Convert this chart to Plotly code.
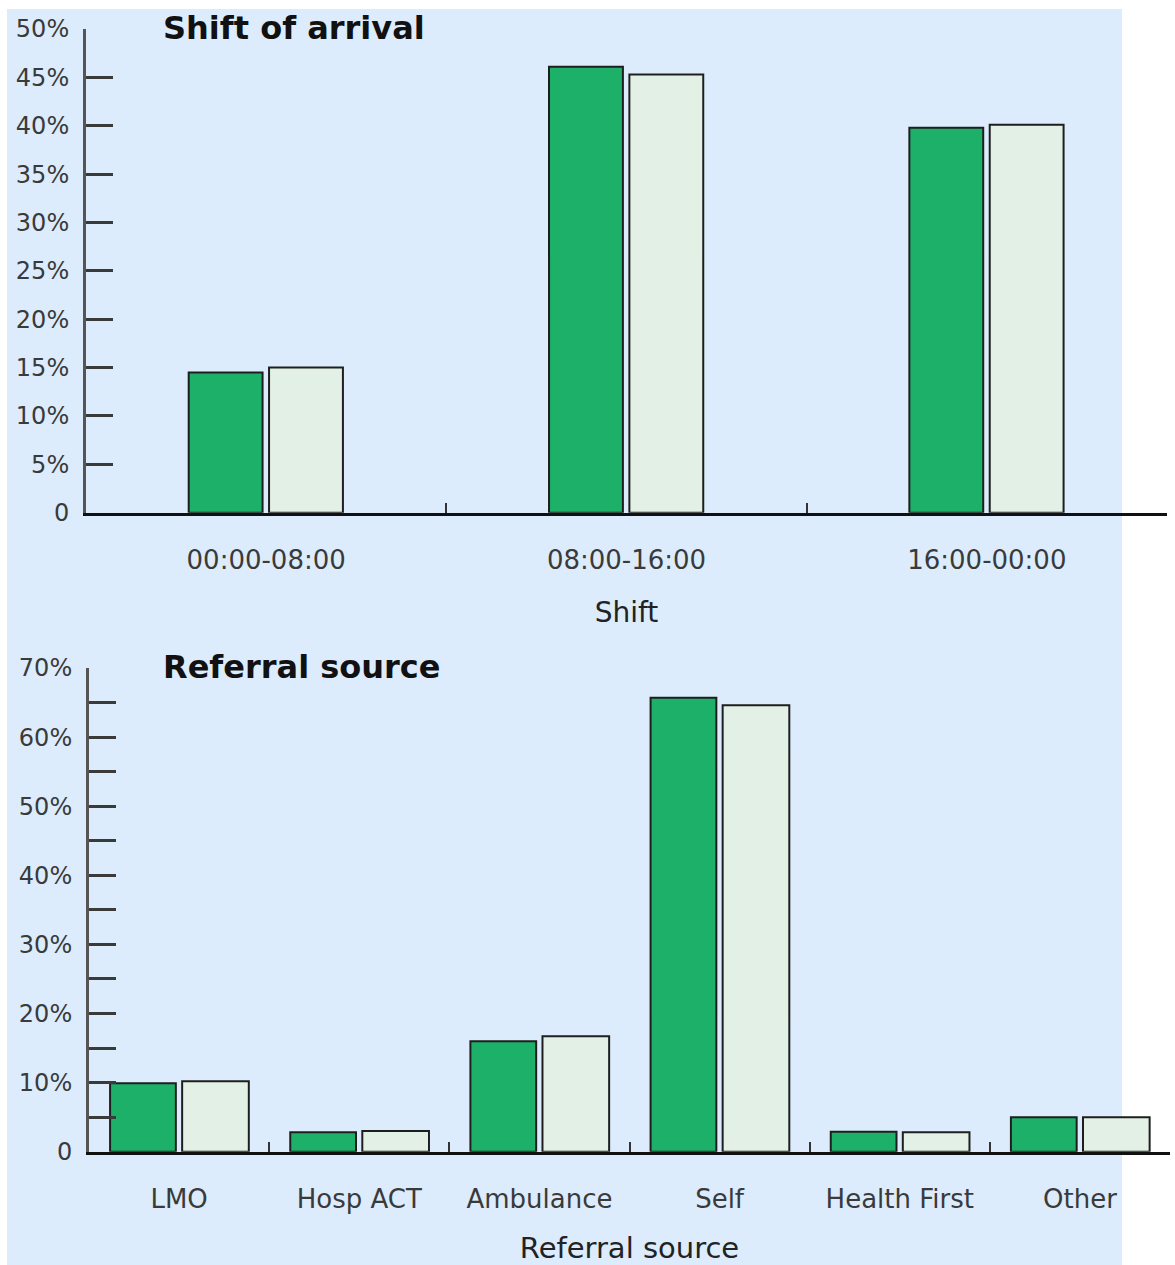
import plotly.graph_objects as go

# Shift of arrival (percent of presentations)
shifts = ["00:00-08:00", "08:00-16:00", "16:00-00:00"]
shift_group_a = [14.5, 46.1, 39.8]
shift_group_b = [15.0, 45.3, 40.1]

# Referral source (percent of presentations)
sources = ["LMO", "Hosp ACT", "Ambulance", "Self", "Health First", "Other"]
source_group_a = [9.9, 2.8, 16.0, 65.7, 2.9, 5.0]
source_group_b = [10.2, 3.0, 16.7, 64.6, 2.8, 5.0]

shift_ticks = [0, 5, 10, 15, 20, 25, 30, 35, 40, 45, 50]
shift_ticktext = ["0"] + [f"{v}%" for v in shift_ticks[1:]]
source_ticks = [0, 10, 20, 30, 40, 50, 60, 70]
source_ticktext = ["0"] + [f"{v}%" for v in source_ticks[1:]]
source_minor_ticks = [5, 15, 25, 35, 45, 55, 65]

GREEN = "#1db068"
PALE = "#e3f0e5"
OUTLINE = "#1e1e1e"
BG = "#dcecfc"
FONT = "DejaVu Sans"

fig = go.Figure()

# top panel bars
fig.add_trace(go.Bar(x=shifts, y=shift_group_a, xaxis="x", yaxis="y",
                     marker=dict(color=GREEN, line=dict(color=OUTLINE, width=2)),
                     offset=-0.215, width=0.205, showlegend=False))
fig.add_trace(go.Bar(x=shifts, y=shift_group_b, xaxis="x", yaxis="y",
                     marker=dict(color=PALE, line=dict(color=OUTLINE, width=2)),
                     offset=0.008, width=0.205, showlegend=False))

# bottom panel bars
fig.add_trace(go.Bar(x=sources, y=source_group_a, xaxis="x2", yaxis="y2",
                     marker=dict(color=GREEN, line=dict(color=OUTLINE, width=2)),
                     offset=-0.383, width=0.365, showlegend=False))
fig.add_trace(go.Bar(x=sources, y=source_group_b, xaxis="x2", yaxis="y2",
                     marker=dict(color=PALE, line=dict(color=OUTLINE, width=2)),
                     offset=0.017, width=0.37, showlegend=False))

W, H = 1175, 1265


def px_x(v):
    return v / W


def px_y(v):
    return 1 - v / H


xaxis_common = dict(
    type="category", tickson="boundaries", ticks="inside", ticklen=10,
    tickwidth=2, tickcolor="#333333", showline=True, linecolor="#111111",
    linewidth=3, showgrid=False, zeroline=False, automargin=False,
    tickfont=dict(family=FONT, size=26, color="#3a3a3a"),
    ticklabelstandoff=22,
)
yaxis_common = dict(
    ticks="inside", ticklen=27, tickwidth=3, tickcolor="#3a3a3a",
    showline=True, linecolor="#555555", linewidth=3, showgrid=False,
    zeroline=False, automargin=False,
    tickfont=dict(family=FONT, size=24, color="#3a3a3a"),
    ticklabelstandoff=9, tickmode="array",
)

fig.update_layout(
    width=W, height=H,
    margin=dict(l=0, r=0, t=0, b=0, autoexpand=False),
    paper_bgcolor="white", plot_bgcolor="rgba(0,0,0,0)",
    barmode="overlay",
    xaxis=dict(xaxis_common, domain=[px_x(86), px_x(1167)], anchor="y",
               range=[-0.5, 2.5],
               title=dict(text="Shift", standoff=29,
                          font=dict(family=FONT, size=28, color="#222222"))),
    yaxis=dict(yaxis_common, domain=[px_y(512.7), px_y(29)], anchor="x",
               range=[0, 50], tickvals=shift_ticks, ticktext=shift_ticktext),
    xaxis2=dict(xaxis_common, domain=[px_x(89), px_x(1170)], anchor="y2",
                range=[-0.5, 5.5],
                title=dict(text="Referral source", standoff=25,
                           font=dict(family=FONT, size=29, color="#222222"))),
    yaxis2=dict(yaxis_common, domain=[px_y(1151.7), px_y(668)], anchor="x2",
                range=[0, 70], tickvals=source_ticks, ticktext=source_ticktext,
                minor=dict(ticks="inside", ticklen=27, tickwidth=3,
                           tickcolor="#3a3a3a", tickvals=source_minor_ticks)),
    shapes=[dict(type="rect", xref="paper", yref="paper",
                 x0=px_x(7), x1=px_x(1122), y0=0, y1=px_y(9),
                 fillcolor=BG, line=dict(width=0), layer="below")],
    annotations=[
        dict(text="<b>Shift of arrival</b>", xref="paper", yref="paper",
             x=px_x(161), y=px_y(28), xanchor="left", yanchor="middle",
             showarrow=False, font=dict(family=FONT, size=32, color="#111111")),
        dict(text="<b>Referral source</b>", xref="paper", yref="paper",
             x=px_x(161), y=px_y(667), xanchor="left", yanchor="middle",
             showarrow=False, font=dict(family=FONT, size=32, color="#111111")),
    ],
)

fig.write_html("out.html")
